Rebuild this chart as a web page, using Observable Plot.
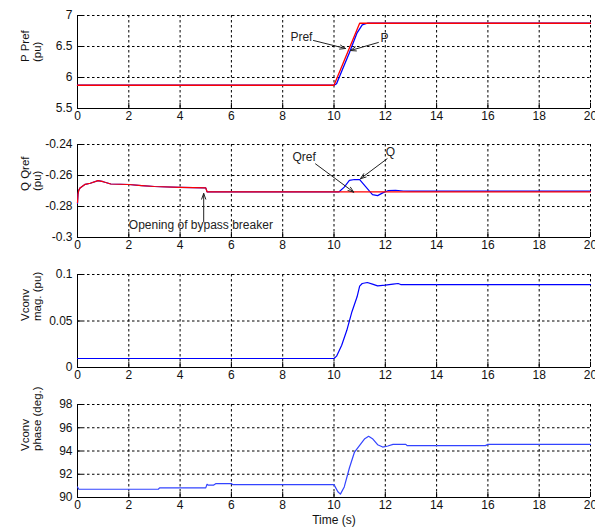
<!DOCTYPE html>
<html>
<head>
<meta charset="utf-8">
<script src="https://cdn.jsdelivr.net/npm/d3@7"></script>
<script src="https://cdn.jsdelivr.net/npm/@observablehq/plot@0.6"></script>
<style>
  html, body { margin: 0; padding: 0; background: #fff; }
  #chart { width: 595px; height: 532px; overflow: hidden; }
  #chart svg { display: block; }
</style>
</head>
<body>
<div id="chart"></div>
<script>
// ---- shared axis data ----
const xTicks = [0, 2, 4, 6, 8, 10, 12, 14, 16, 18, 20];

// ---- panel 1: P / Pref ----
const p1Ticks = [5.5, 6, 6.5, 7];
const prefT = [0, 10, 11, 20];
const prefV = [5.875, 5.875, 6.875, 6.875];
const pT = [0, 10, 10.1, 10.3, 10.6, 10.9, 11.1, 11.3, 20];
const pV = [5.875, 5.875, 5.9, 6.1, 6.4, 6.72, 6.85, 6.875, 6.875];
const p1Text = [
  {x: 8.3, y: 6.645, label: "Pref", anchor: "start"},
  {x: 11.97, y: 6.63, label: "P", anchor: "middle"}
];
const p1Arrows = [
  {x1: 9.2, y1: 6.597, x2: 10.45, y2: 6.468},
  {x1: 11.73, y1: 6.565, x2: 10.64, y2: 6.435}
];

// ---- panel 2: Q / Qref ----
const p2Ticks = [-0.3, -0.28, -0.26, -0.24];
const qrefT = [0, 0.02, 0.05, 0.1, 0.3, 0.5, 0.8, 1.0, 1.3, 2.0, 2.5, 3.0, 4.0, 5.0, 5.05, 20];
const qrefV = [-0.2775, -0.272, -0.2695, -0.268, -0.2657, -0.265, -0.2633, -0.264, -0.2655, -0.2658, -0.2665, -0.2671, -0.2677, -0.268, -0.2705, -0.2705];
const qT = [0, 0.02, 0.05, 0.1, 0.3, 0.5, 0.8, 1.0, 1.3, 2.0, 2.5, 3.0, 4.0, 5.0, 5.05, 10.2, 10.4, 10.6, 10.8, 11.0, 11.2, 11.5, 11.7, 11.9, 12.1, 12.4, 12.7, 13.0, 20];
const qV = [-0.278, -0.272, -0.2695, -0.268, -0.2657, -0.265, -0.2633, -0.264, -0.2655, -0.2658, -0.2665, -0.2671, -0.2677, -0.268, -0.2705, -0.2705, -0.2675, -0.2632, -0.2626, -0.2626, -0.2665, -0.2723, -0.273, -0.2712, -0.2698, -0.2695, -0.27, -0.2701, -0.2701];
const p2Text = [
  {x: 8.38, y: -0.2482, label: "Qref", anchor: "start"},
  {x: 12.2, y: -0.245, label: "Q", anchor: "middle"},
  {x: 2.0, y: -0.2923, label: "Opening of bypass breaker", anchor: "start"}
];
const p2Arrows = [
  {x1: 9.28, y1: -0.2525, x2: 10.77, y2: -0.2708},
  {x1: 12.07, y1: -0.2492, x2: 11.03, y2: -0.2621},
  {x1: 4.92, y1: -0.2897, x2: 4.92, y2: -0.2716}
];

// ---- panel 3: Vconv magnitude ----
const p3Ticks = [0, 0.05, 0.1];
const magT = [0, 10, 10.1, 10.3, 10.5, 10.7, 10.9, 11.0, 11.1, 11.3, 11.5, 11.7, 12.0, 12.3, 12.5, 12.6, 20];
const magV = [0.0097, 0.0097, 0.0122, 0.024, 0.040, 0.060, 0.076, 0.0875, 0.0903, 0.0914, 0.0896, 0.0878, 0.0885, 0.0896, 0.0903, 0.0892, 0.0892];

// ---- panel 4: Vconv phase ----
const p4Ticks = [90, 92, 94, 96, 98];
const phT = [0, 0.05, 3.15, 3.2, 5.0, 5.05, 5.1, 5.3, 5.4, 6.0, 6.05, 10.0, 10.15, 10.25, 10.4, 10.6, 10.8, 11.0, 11.2, 11.35, 11.5, 11.7, 11.9, 12.1, 12.3, 12.8, 12.85, 15.9, 16.0, 20];
const phV = [90.91, 90.71, 90.71, 90.83, 90.83, 91.14, 91.06, 91.06, 91.2, 91.2, 91.11, 91.11, 90.49, 90.29, 90.91, 92.54, 93.91, 94.49, 95.06, 95.26, 95.06, 94.54, 94.34, 94.43, 94.57, 94.57, 94.46, 94.46, 94.57, 94.57];

const zip = (t, v) => t.map((d, i) => ({t: d, v: v[i]}));
const fmt = d => String(d);
const FONT = "'Liberation Sans', Arial, sans-serif";
const W = 595, ML = 77, MR = 5, MT = 15;

function panel({height, marginBottom, domain, ticks, ylabel, marks, xlabel}) {
  const innerH = height - MT - marginBottom;
  const innerW = W - ML - MR;
  const dash = {stroke: "black", strokeOpacity: 1, strokeDasharray: "2.5,2.5", strokeWidth: 1};
  const all = [
    Plot.gridX(xTicks, dash),
    Plot.gridY(ticks, dash),
    Plot.ruleX([0], {stroke: "black"}),
    Plot.ruleY([domain[0]], {stroke: "black"}),
    Plot.tickX(xTicks, {x: d => d, stroke: "black", insetTop: innerH - 5}),
    Plot.tickY(ticks, {y: d => d, stroke: "black", insetRight: innerW - 5}),
    Plot.axisX(xTicks, {tickSize: 0, tickPadding: 3, tickFormat: fmt, label: null, fill: "#111"}),
    Plot.axisY(ticks, {tickSize: 0, tickPadding: 5, tickFormat: fmt, label: null, fill: "#111"}),
    ...marks,
    Plot.text([ylabel], {frameAnchor: "left", rotate: -90, dx: -46, fontSize: 11.5, lineHeight: 1.0, fill: "#111"})
  ];
  if (xlabel) all.push(Plot.text([xlabel], {frameAnchor: "bottom", dy: 26, fontSize: 12, fill: "#111"}));
  return Plot.plot({
    width: W, height,
    marginLeft: ML, marginRight: MR, marginTop: MT, marginBottom,
    style: {fontFamily: FONT, fontSize: "12px", background: "white", overflow: "visible"},
    x: {domain: [0, 20]},
    y: {domain},
    marks: all
  });
}

const arrowOpts = {x1: "x1", y1: "y1", x2: "x2", y2: "y2", stroke: "#222", strokeWidth: 1, headLength: 9, headAngle: 40};
function labels(data) {
  return ["start", "middle"].map(a =>
    Plot.text(data.filter(d => d.anchor === a), {x: "x", y: "y", text: "label", textAnchor: a, fontSize: 12, fill: "#222"}));
}

const chart = document.getElementById("chart");

chart.append(panel({
  height: 129, marginBottom: 21, domain: [5.5, 7], ticks: p1Ticks, ylabel: "P Pref\n(pu)",
  marks: [
    Plot.line(zip(pT, pV), {x: "t", y: "v", stroke: "blue", strokeWidth: 1.3}),
    Plot.line(zip(prefT, prefV), {x: "t", y: "v", stroke: "red", strokeWidth: 1.3}),
    Plot.arrow(p1Arrows, arrowOpts),
    ...labels(p1Text)
  ]
}));

chart.append(panel({
  height: 130, marginBottom: 22, domain: [-0.3, -0.24], ticks: p2Ticks, ylabel: "Q Qref\n(pu)",
  marks: [
    Plot.line(zip(qT, qV), {x: "t", y: "v", stroke: "blue", strokeWidth: 1.2}),
    Plot.line(zip(qrefT, qrefV), {x: "t", y: "v", stroke: "red", strokeWidth: 1.2}),
    Plot.arrow(p2Arrows, arrowOpts),
    ...labels(p2Text)
  ]
}));

chart.append(panel({
  height: 130, marginBottom: 22, domain: [0, 0.1], ticks: p3Ticks, ylabel: "Vconv\nmag. (pu)",
  marks: [
    Plot.line(zip(magT, magV), {x: "t", y: "v", stroke: "blue", strokeWidth: 1.2})
  ]
}));

chart.append(panel({
  height: 143, marginBottom: 35, domain: [90, 98], ticks: p4Ticks, ylabel: "Vconv\nphase (deg.)",
  xlabel: "Time (s)",
  marks: [
    Plot.line(zip(phT, phV), {x: "t", y: "v", stroke: "#3344ff", strokeWidth: 1.2})
  ]
}));
</script>
</body>
</html>
